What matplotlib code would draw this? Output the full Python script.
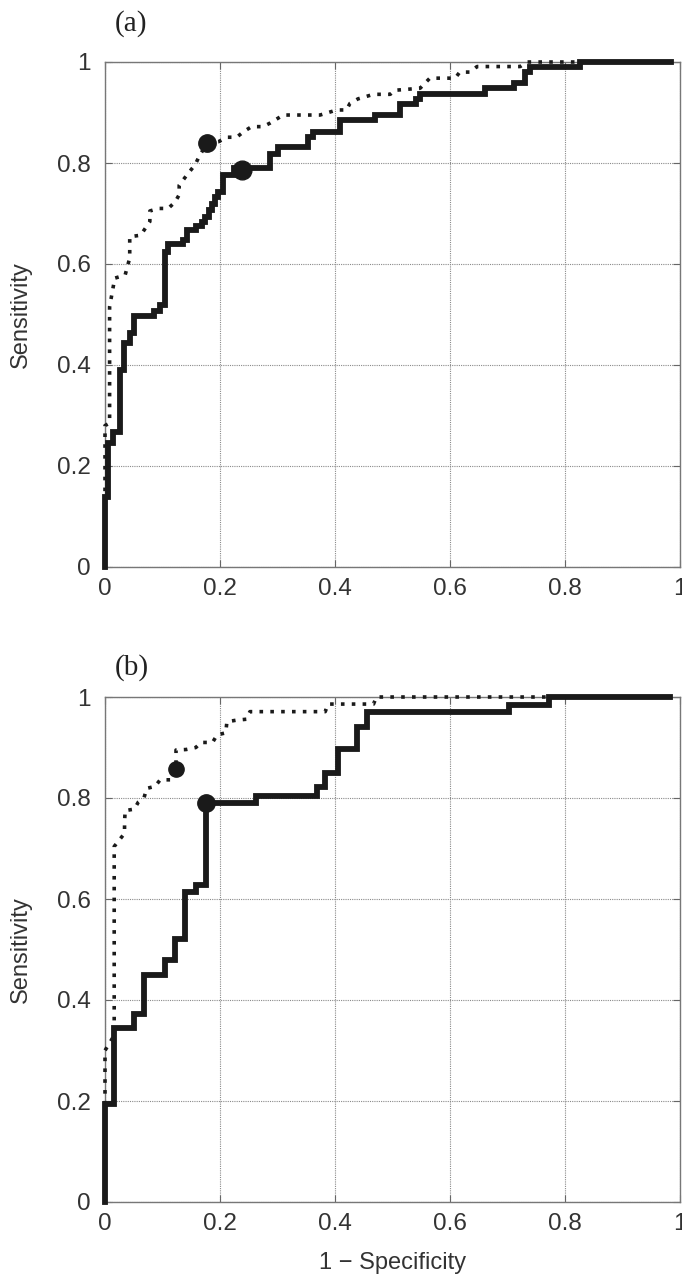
import matplotlib
matplotlib.use("Agg")
import matplotlib.pyplot as plt

# ---------------- data ----------------
# Panel (a) solid ROC (step breakpoints: x start, y level)
a_solid_x = [0, 0, 0.006, 0.0145, 0.026, 0.033, 0.0435, 0.0504, 0.085, 0.0957, 0.104,
             0.110, 0.136, 0.143, 0.159, 0.168, 0.174, 0.180, 0.186, 0.191, 0.197,
             0.206, 0.225, 0.287, 0.301, 0.353, 0.362, 0.409, 0.47, 0.513, 0.541,
             0.548, 0.661, 0.711, 0.730, 0.739, 0.826, 0.985]
a_solid_y = [0, 0.139, 0.245, 0.268, 0.39, 0.443, 0.463, 0.497, 0.506, 0.519, 0.624,
             0.639, 0.648, 0.667, 0.676, 0.684, 0.694, 0.707, 0.719, 0.733, 0.743,
             0.776, 0.79, 0.818, 0.832, 0.852, 0.862, 0.885, 0.895, 0.916, 0.927,
             0.936, 0.948, 0.958, 0.981, 0.991, 1.0, 1.0]
# Panel (a) dotted ROC
a_dot_x = [0, 0, 0.008, 0.008, 0.017, 0.035, 0.043, 0.043, 0.062, 0.078, 0.078, 0.093,
           0.11, 0.122, 0.129, 0.129, 0.145, 0.157, 0.165, 0.178, 0.197, 0.212, 0.229,
           0.241, 0.255, 0.275, 0.287, 0.31, 0.374, 0.403, 0.42, 0.426, 0.44, 0.467,
           0.496, 0.504, 0.548, 0.565, 0.609, 0.617, 0.635, 0.647, 0.722, 0.734, 0.83]
a_dot_y = [0, 0.28, 0.285, 0.515, 0.572, 0.578, 0.612, 0.654, 0.657, 0.684, 0.705, 0.71,
           0.71, 0.723, 0.737, 0.756, 0.78, 0.797, 0.816, 0.839, 0.842, 0.851, 0.851,
           0.862, 0.872, 0.872, 0.879, 0.895, 0.895, 0.905, 0.905, 0.918, 0.927, 0.936,
           0.936, 0.944, 0.948, 0.968, 0.968, 0.980, 0.980, 0.991, 0.991, 1.0, 1.0]
# Operating points (a)
a_solid_pt = (0.238, 0.787)
a_dot_pt = (0.178, 0.839)

# Panel (b) solid ROC
b_solid_x = [0, 0, 0.0157, 0.051, 0.067, 0.104, 0.122, 0.139, 0.159, 0.176, 0.262,
             0.368, 0.383, 0.406, 0.439, 0.456, 0.703, 0.773, 0.983]
b_solid_y = [0, 0.195, 0.344, 0.372, 0.45, 0.479, 0.52, 0.614, 0.628, 0.79, 0.804,
             0.822, 0.85, 0.898, 0.94, 0.971, 0.984, 1.0, 1.0]
# Panel (b) dotted ROC
b_dot_x = [0, 0, 0.016, 0.016, 0.025, 0.034, 0.034, 0.035, 0.051, 0.058, 0.068, 0.0725,
           0.087, 0.096, 0.115, 0.1235, 0.1235, 0.141, 0.158, 0.167, 0.187, 0.195, 0.21,
           0.212, 0.228, 0.246, 0.252, 0.383, 0.388, 0.467, 0.472, 0.775]
b_dot_y = [0, 0.30, 0.33, 0.704, 0.717, 0.73, 0.751, 0.775, 0.778, 0.792, 0.801, 0.819,
           0.823, 0.836, 0.836, 0.857, 0.895, 0.896, 0.9, 0.91, 0.91, 0.925, 0.929,
           0.951, 0.954, 0.956, 0.971, 0.971, 0.986, 0.986, 1.0, 1.0]
b_solid_pt = (0.176, 0.79)
b_dot_pt = (0.1235, 0.857)

ticks = [0, 0.2, 0.4, 0.6, 0.8, 1]
tick_labels = ["0", "0.2", "0.4", "0.6", "0.8", "1"]
panel_labels = ["(a)", "(b)"]
ylabel_text = "Sensitivity"
xlabel_text = "1 \u2212 Specificity"

# ---------------- figure ----------------
plt.rcParams['font.family'] = ['Liberation Sans', 'DejaVu Sans']
fig = plt.figure(figsize=(6.82, 12.79), dpi=100)

W, H = 682, 1279
def axes_rect(left_px, right_px, top_px, bottom_px):
    return [left_px / W, 1 - bottom_px / H, (right_px - left_px) / W, (bottom_px - top_px) / H]

ax_a = fig.add_axes(axes_rect(105, 680, 62, 567))
ax_b = fig.add_axes(axes_rect(105, 680, 697, 1202))

line_col = '#1a1a1a'
panels = [
    (ax_a, a_solid_x, a_solid_y, a_dot_x, a_dot_y, a_solid_pt, a_dot_pt, 1.077, 13.5, 12.5),
    (ax_b, b_solid_x, b_solid_y, b_dot_x, b_dot_y, b_solid_pt, b_dot_pt, 1.059, 12.5, 11),
]

for i, (ax, sx, sy, dx, dy, spt, dpt, lab_y, ms_s, ms_d) in enumerate(panels):
    ax.set_xlim(0, 1)
    ax.set_ylim(0, 1)
    ax.set_xticks(ticks)
    ax.set_yticks(ticks)
    ax.set_xticklabels(tick_labels)
    ax.set_yticklabels(tick_labels)
    ax.grid(True, linestyle=(0, (1, 1)), color='#8a8a8a', linewidth=0.8)
    ax.set_axisbelow(True)
    ax.tick_params(direction='in', length=5, width=0.8, color='#666666',
                   top=True, right=True, labelsize=17.5, labelcolor='#333333')
    ax.tick_params(axis='y', pad=10)
    ax.tick_params(axis='x', pad=8)
    for sp in ax.spines.values():
        sp.set_color('#777777')
        sp.set_linewidth(1.0)

    ax.plot(dx, dy, color=line_col, linewidth=2.6, linestyle=(0, (1, 2.0)),
            clip_on=False, zorder=3)
    ax.step(sx, sy, where='post', color=line_col, linewidth=4.2,
            solid_joinstyle='miter', clip_on=False, zorder=4)
    ax.plot([dpt[0]], [dpt[1]], 'o', color=line_col, markersize=ms_d, zorder=5, clip_on=False)
    ax.plot([spt[0]], [spt[1]], 'o', color=line_col, markersize=ms_s, zorder=5, clip_on=False)

    ax.set_ylabel(ylabel_text, fontsize=17, color='#333333')
    ax.yaxis.set_label_coords(-0.127, 0.5)
    ax.text(0.017, lab_y, panel_labels[i], transform=ax.transAxes, ha='left', va='center',
            fontsize=21, family='Liberation Serif', color='#222222')

ax_b.set_xlabel(xlabel_text, fontsize=17, color='#333333', labelpad=12)

fig.savefig('out.png', dpi=100)
